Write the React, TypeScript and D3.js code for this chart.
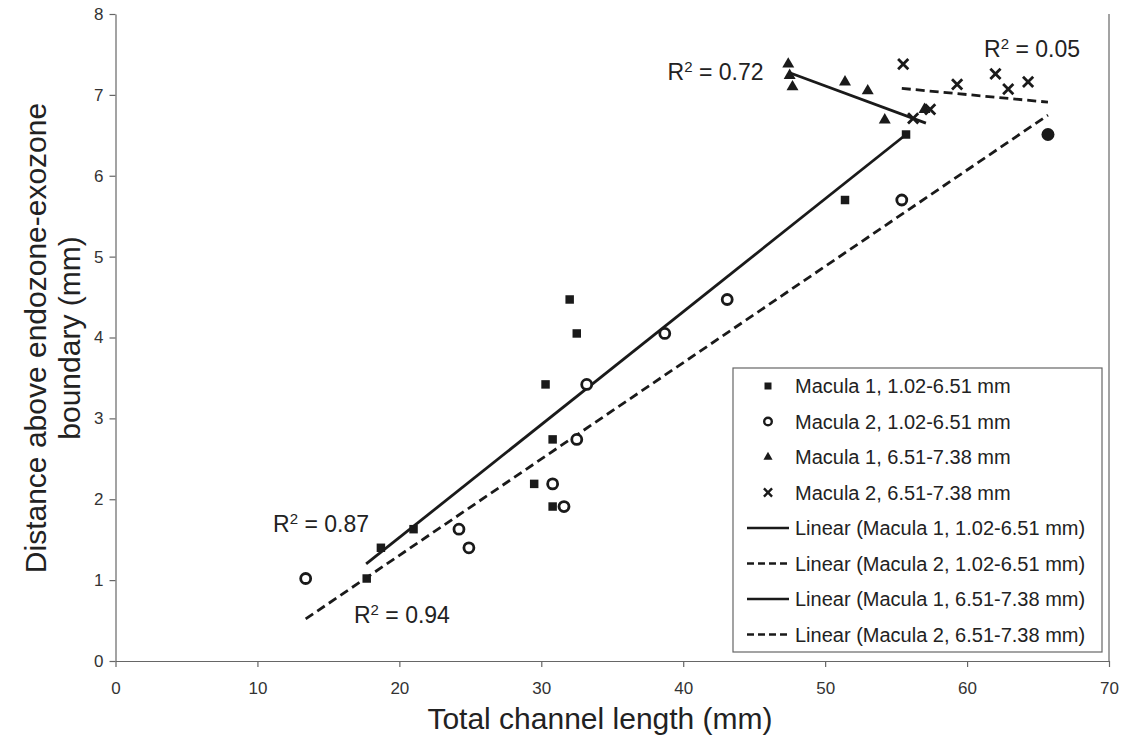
import { useRef, useEffect } from "react";
import * as d3 from "d3";

// Macula 1, 1.02-6.51 mm (filled squares)
const m1LowX = [17.7, 18.7, 21.0, 29.5, 30.8, 30.8, 30.3, 32.5, 32.0, 51.4, 55.7];
const m1LowY = [1.02, 1.40, 1.63, 2.19, 1.91, 2.74, 3.42, 4.05, 4.47, 5.70, 6.51];
// Macula 2, 1.02-6.51 mm (open circles)
const m2LowX = [13.4, 24.9, 24.2, 30.8, 31.6, 32.5, 33.2, 38.7, 43.1, 55.4];
const m2LowY = [1.02, 1.40, 1.63, 2.19, 1.91, 2.74, 3.42, 4.05, 4.47, 5.70];
// Macula 1, 6.51-7.38 mm (triangles)
const m1HighX = [47.4, 47.5, 47.7, 51.4, 53.0, 54.2, 57.0];
const m1HighY = [7.38, 7.24, 7.10, 7.16, 7.05, 6.69, 6.82];
// Macula 2, 6.51-7.38 mm (crosses)
const m2HighX = [55.5, 59.3, 62.0, 62.9, 64.3, 57.4, 56.2];
const m2HighY = [7.38, 7.13, 7.26, 7.07, 7.16, 6.82, 6.71];
// shared end point, drawn as a filled dot
const sharedX = [65.7];
const sharedY = [6.51];

// trend line end points
const trendM1LowX = [17.66, 55.7];
const trendM1LowY = [1.2, 6.51];
const trendM2LowX = [13.4, 65.7];
const trendM2LowY = [0.52, 6.75];
const trendM1HighX = [47.4, 57.1];
const trendM1HighY = [7.28, 6.65];
const trendM2HighX = [55.4, 65.7];
const trendM2HighY = [7.08, 6.91];

const xTicks = [0, 10, 20, 30, 40, 50, 60, 70];
const yTicks = [0, 1, 2, 3, 4, 5, 6, 7, 8];

const legendLabels = [
  "Macula 1, 1.02-6.51 mm",
  "Macula 2, 1.02-6.51 mm",
  "Macula 1, 6.51-7.38 mm",
  "Macula 2, 6.51-7.38 mm",
  "Linear (Macula 1, 1.02-6.51 mm)",
  "Linear (Macula 2, 1.02-6.51 mm)",
  "Linear (Macula 1, 6.51-7.38 mm)",
  "Linear (Macula 2, 6.51-7.38 mm)",
];

const rLabels = ["0.72", "0.05", "0.87", "0.94"];
const rLabelX = [38.9, 61.2, 11.1, 16.8];
const rLabelY = [7.18, 7.47, 1.59, 0.47];

const FONT = "'Liberation Sans', Arial, sans-serif";
const INK = "#1a1a1a";

const width = 1134;
const height = 738;

const App = () => {
  const svgRef = useRef<SVGSVGElement | null>(null);

  const x = d3.scaleLinear().domain([0, 70]).range([115.5, 1109]);
  const y = d3.scaleLinear().domain([0, 8]).range([661, 14]);

  useEffect(() => {
    const svg = d3.select(svgRef.current);

    const xAxis = d3.axisBottom(x).tickValues(xTicks).tickSize(6).tickPadding(15).tickSizeOuter(0);
    const yAxis = d3.axisLeft(y).tickValues(yTicks).tickSize(6).tickPadding(6).tickSizeOuter(0);

    const gx = svg.select<SVGGElement>(".x-axis")
      .attr("transform", `translate(0,${y(0)})`)
      .call(xAxis);
    const gy = svg.select<SVGGElement>(".y-axis")
      .attr("transform", `translate(${x(0)},0)`)
      .call(yAxis);

    [gx, gy].forEach((g) => {
      g.selectAll("path, line").attr("stroke", "#666").attr("stroke-width", 1.2);
      g.selectAll("text")
        .attr("font-family", FONT)
        .attr("font-size", 17)
        .attr("fill", "#333");
    });
  }, []);

  const line = d3.line<[number, number]>()
    .x((d) => x(d[0]))
    .y((d) => y(d[1]));
  const pts = (xs: number[], ys: number[]) => xs.map((v, i) => [v, ys[i]] as [number, number]);

  const square = d3.symbol(d3.symbolSquare, 72)()!;
  const triangle = d3.symbol(d3.symbolTriangle, 62)()!;
  const cross = d3.symbol(d3.symbolTimes, 70)()!;

  const trends = [
    { xs: trendM1LowX, ys: trendM1LowY, dash: null },
    { xs: trendM2LowX, ys: trendM2LowY, dash: "9,5" },
    { xs: trendM1HighX, ys: trendM1HighY, dash: null },
    { xs: trendM2HighX, ys: trendM2HighY, dash: "9,5" },
  ];

  // legend layout
  const lgX = 733, lgY = 368, lgW = 369, lgH = 284;
  const rowY = (i: number) => lgY + 18 + i * 35.5;

  return (
    <svg
      ref={svgRef}
      width={width}
      height={height}
      style={{ position: "absolute", left: 0, top: 0, background: "#fff" }}
    >
      <rect width={width} height={height} fill="#fff" />
      {/* plot area right border */}
      <line x1={x(70)} x2={x(70)} y1={y(8)} y2={y(0)} stroke="#666" strokeWidth={1.2} />
      <g className="x-axis" />
      <g className="y-axis" />

      {/* trend lines */}
      {trends.map((t, i) => (
        <path
          key={i}
          d={line(pts(t.xs, t.ys)) ?? ""}
          fill="none"
          stroke={INK}
          strokeWidth={2.8}
          strokeDasharray={t.dash ?? undefined}
        />
      ))}

      {/* markers */}
      {pts(m1LowX, m1LowY).map((d, i) => (
        <path key={`s${i}`} d={square} transform={`translate(${x(d[0])},${y(d[1])})`} fill={INK} />
      ))}
      {pts(m2LowX, m2LowY).map((d, i) => (
        <circle key={`c${i}`} cx={x(d[0])} cy={y(d[1])} r={5} fill="#fff" stroke={INK} strokeWidth={2.8} />
      ))}
      {pts(m1HighX, m1HighY).map((d, i) => (
        <path key={`t${i}`} d={triangle} transform={`translate(${x(d[0])},${y(d[1])})`} fill={INK} />
      ))}
      {pts(m2HighX, m2HighY).map((d, i) => (
        <path key={`x${i}`} d={cross} transform={`translate(${x(d[0])},${y(d[1])})`} fill="none" stroke={INK} strokeWidth={2.8} />
      ))}
      {pts(sharedX, sharedY).map((d, i) => (
        <circle key={`f${i}`} cx={x(d[0])} cy={y(d[1])} r={6.5} fill={INK} />
      ))}

      {/* R² labels */}
      {rLabels.map((r, i) => (
        <text key={r} x={x(rLabelX[i])} y={y(rLabelY[i])} fontFamily={FONT} fontSize={23} fill="#222">
          R<tspan fontSize={15} dy={-8}>2</tspan>
          <tspan dy={8}> = {r}</tspan>
        </text>
      ))}

      {/* legend */}
      <rect x={lgX} y={lgY} width={lgW} height={lgH} fill="#fff" stroke="#666" strokeWidth={1.2} />
      {legendLabels.map((label, i) => {
        const cy = rowY(i);
        const mx = lgX + 35;
        let sym = null;
        if (i === 0) sym = <path d={d3.symbol(d3.symbolSquare, 49)()!} transform={`translate(${mx},${cy})`} fill={INK} />;
        if (i === 1) sym = <circle cx={mx} cy={cy} r={3.8} fill="#fff" stroke={INK} strokeWidth={2.4} />;
        if (i === 2) sym = <path d={d3.symbol(d3.symbolTriangle, 36)()!} transform={`translate(${mx},${cy})`} fill={INK} />;
        if (i === 3) sym = <path d={d3.symbol(d3.symbolTimes, 45)()!} transform={`translate(${mx},${cy})`} fill="none" stroke={INK} strokeWidth={2.4} />;
        if (i >= 4)
          sym = (
            <line
              x1={lgX + 14}
              x2={lgX + 56}
              y1={cy}
              y2={cy}
              stroke={INK}
              strokeWidth={2.6}
              strokeDasharray={i % 2 === 1 ? "7,4" : undefined}
            />
          );
        return (
          <g key={label}>
            {sym}
            <text x={lgX + 62} y={cy} dy="0.35em" fontFamily={FONT} fontSize={20} fill="#222">
              {label}
            </text>
          </g>
        );
      })}

      {/* axis titles */}
      <text x={600} y={729} textAnchor="middle" fontFamily={FONT} fontSize={30} fill="#222">
        Total channel length (mm)
      </text>
      <g transform="translate(0,338) rotate(-90)" fontFamily={FONT} fontSize={30} fill="#222" textAnchor="middle">
        <text x={0} y={46}>Distance above endozone-exozone</text>
        <text x={0} y={80}>boundary (mm)</text>
      </g>
    </svg>
  );
};

export default App;
